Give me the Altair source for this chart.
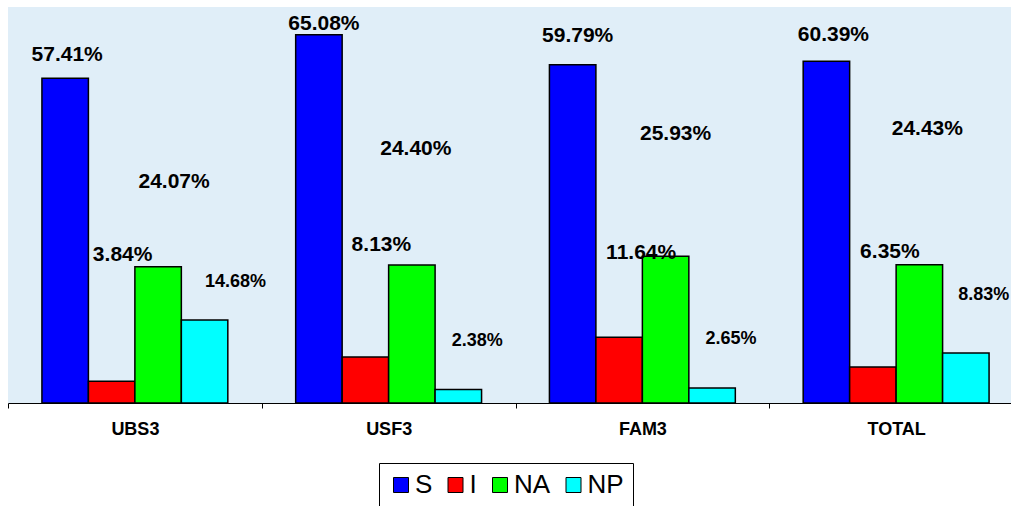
import altair as alt
import pandas as pd

# Groups, series and their percentages
groups = ["UBS3", "USF3", "FAM3", "TOTAL"]
series = ["S", "I", "NA", "NP"]
s_vals = [57.41, 65.08, 59.79, 60.39]
i_vals = [3.84, 8.13, 11.64, 6.35]
na_vals = [24.07, 24.40, 25.93, 24.43]
np_vals = [14.68, 2.38, 2.65, 8.83]
colors = ["#0000FF", "#FF0000", "#00FF00", "#00FFFF"]

# Pixel nudges for each value label, relative to the top centre of its bar
label_dx = {"S": [2, 5, 5, 7], "I": [11, 16, 22, 17], "NA": [16, 4, 10, 8], "NP": [31, 19, 19, 18]}
label_dy = {"S": [-23, -11, -29, -26], "I": [-126, -112, -84, -115],
            "NA": [-85, -116, -122, -136], "NP": [-38, -49, -49, -58]}
label_size = {"S": 21, "I": 21, "NA": 21, "NP": 18}

values = {"S": s_vals, "I": i_vals, "NA": na_vals, "NP": np_vals}
rows = []
for name in series:
    for g, v in zip(groups, values[name]):
        rows.append({"grupo": g, "serie": name, "valor": v, "rotulo": f"{v:.2f}%"})
df = pd.DataFrame(rows)

FONT = "Liberation Sans, Arial, sans-serif"

x_enc = alt.X("grupo:N", sort=groups, title=None,
              scale=alt.Scale(domain=groups, range=[0, 1015], paddingInner=0, paddingOuter=0),
              axis=alt.Axis(labelAngle=0, labelFont=FONT, labelFontSize=18, labelFontWeight="bold",
                            labelColor="black", labelPadding=12, tickBand="extent", tickSize=5,
                            tickColor="black", domainColor="black", domainWidth=1, ticks=True,
                            grid=False))
xo_enc = alt.XOffset("serie:N", sort=series,
                     scale=alt.Scale(domain=series, paddingInner=0, paddingOuter=0.73))
y_enc = alt.Y("valor:Q", scale=alt.Scale(domain=[0, 70], nice=False), axis=None)

bars = alt.Chart(df).mark_bar(stroke="black", strokeWidth=1.5).encode(
    x=x_enc,
    xOffset=xo_enc,
    y=y_enc,
    color=alt.Color("serie:N", sort=series,
                    scale=alt.Scale(domain=series, range=colors),
                    legend=alt.Legend(orient="none", legendX=371, legendY=456,
                                      direction="horizontal", columns=4, title=None,
                                      symbolType="square", symbolSize=225,
                                      symbolStrokeColor="black", symbolStrokeWidth=1,
                                      labelFont=FONT, labelFontSize=26, labelColor="black",
                                      labelOffset=1, columnPadding=9.5, padding=9,
                                      strokeColor="black", fillColor="white")),
)

texts = []
for name in series:
    for gi, g in enumerate(groups):
        texts.append(
            alt.Chart(df).transform_filter(
                (alt.datum.grupo == g) & (alt.datum.serie == name)
            ).mark_text(font=FONT, fontSize=label_size[name], fontWeight="bold", color="black",
                        align="center", baseline="middle",
                        dx=label_dx[name][gi], dy=label_dy[name][gi]).encode(
                x=alt.X("grupo:N", sort=groups),
                xOffset=alt.XOffset("serie:N", sort=series),
                y=alt.Y("valor:Q"),
                text="rotulo:N",
            )
        )

chart = alt.layer(bars, *texts).properties(
    width=1003,
    height=396,
    autosize=alt.AutoSizeParams(type="none"),
    padding={"left": 8, "top": 7, "right": 0, "bottom": 103},
    background="white",
).configure_view(stroke=None, fill="#e0eef8")

chart.save("out.html", embed_options={"renderer": "svg", "actions": False})
